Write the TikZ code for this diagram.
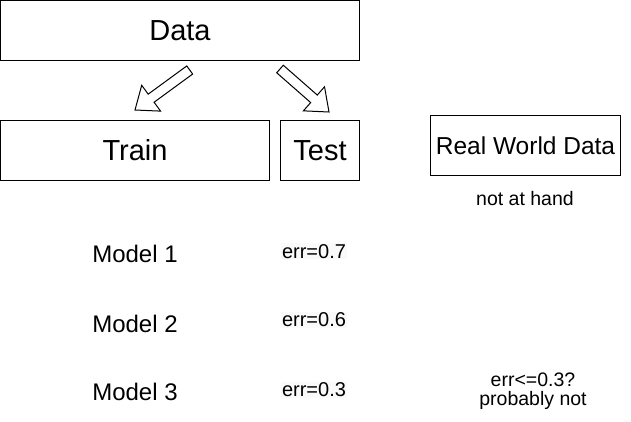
\documentclass[tikz,border=0pt]{standalone}
\usepackage{fontspec}
\setmainfont{Liberation Sans}
\usepackage{pgf,tikz}
\usetikzlibrary{calc, positioning}

% hollow block arrow from #1 to #2
\newcommand{\blockarrow}[2]{%
	\path ($(#2)!20pt!(#1)$) coordinate (hb);
	\draw[fill=white,line join=miter] ($(#1)!5pt!90:(#2)$) -- ($(hb)!5pt!-90:(#1)$) -- ($(hb)!16pt!-90:(#1)$) -- (#2) -- ($(hb)!16pt!90:(#1)$) -- ($(hb)!5pt!90:(#1)$) -- ($(#1)!5pt!-90:(#2)$) -- cycle;}

\begin{document}
\begin{tikzpicture}[x=1pt,y=-1pt,line width=1pt,
		box/.style={draw,inner sep=0pt,font=\fontsize{29}{34}\selectfont},
		model/.style={anchor=base,font=\fontsize{24}{28}\selectfont},
		err/.style={anchor=base,fill=black!2,inner sep=1pt,font=\fontsize{20}{24}\selectfont}]
		\useasboundingbox (0,0) rectangle (631,421);
		
		\node[box,minimum width=359pt,minimum height=60pt] (data) at (180,30.5) {Data};
		\node[box,minimum width=269pt,minimum height=60pt] (train) at (135,150.5) {Train};
		\node[box,minimum width=79pt,minimum height=60pt] (test) at (320,150.5) {Test};
		\node[box,minimum width=190pt,minimum height=60pt,font=\fontsize{24.5}{28}\selectfont] (real) at (525.5,145.5) {Real World Data};
		\node[anchor=base,font=\fontsize{19.5}{22}\selectfont] (hand) at (525,205) {not at hand};
		
		% arrows
		\coordinate (dataL) at (189.7,70);
		\coordinate (trainIn) at (135,110);
		\coordinate (dataR) at (280,69);
		\coordinate (testIn) at (329,112);
		\blockarrow{dataL}{trainIn}
		\blockarrow{dataR}{testIn}
		
		% models
		\node[model] (m1) at (135,262) {Model 1};
		\node[model] (m2) at (135,332.7) {Model 2};
		\node[model] (m3) at (135,400) {Model 3};
		\node[err] (e1) at (314,258) {err=0.7};
		\node[err] (e2) at (314,326.7) {err=0.6};
		\node[err] (e3) at (314,396.7) {err=0.3};
		\node[align=center,inner sep=0pt,font=\fontsize{19.5}{19}\selectfont] (guess) at (533,391.7) {err<=0.3?\\probably not};
\end{tikzpicture}
\end{document}
